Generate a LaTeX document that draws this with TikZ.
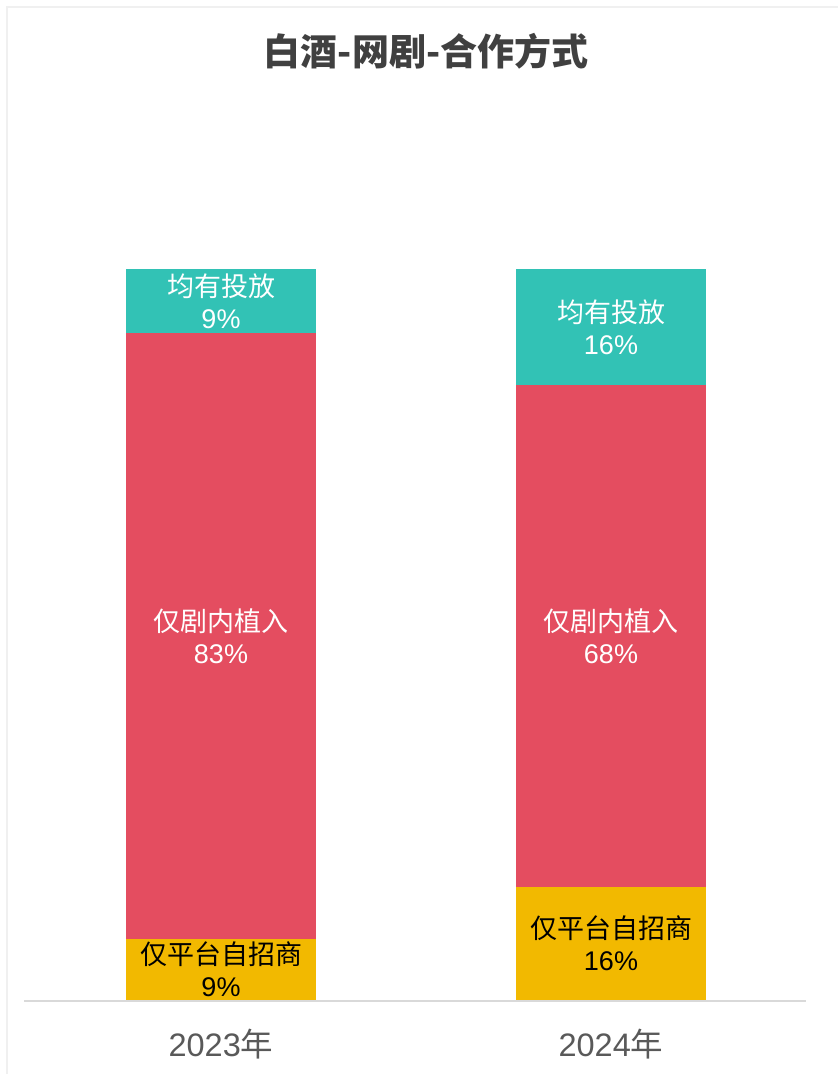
\documentclass[tikz,border=0pt]{standalone}
\usepackage{fontspec}
\setmainfont{Liberation Sans}
\newfontfamily\cjk{Noto Sans CJK SC}
\definecolor{cteal}{HTML}{32C2B5}
\definecolor{cred}{HTML}{E44D60}
\definecolor{cyellow}{HTML}{F2B900}
\definecolor{caxis}{HTML}{D9D9D9}
\definecolor{ctitle}{HTML}{404040}
\definecolor{clabel}{HTML}{595959}
\definecolor{cframe}{HTML}{F0F0F0}
\begin{document}
\begin{tikzpicture}[x=1pt,y=-1pt,
  seg/.style={rectangle, inner sep=0pt, minimum width=190pt, align=center,
    font=\fontsize{27}{32}\selectfont},
  wseg/.style={seg, text=white},
  bseg/.style={seg, text=black},
  axlabel/.style={inner sep=0pt, text=clabel, font=\fontsize{32.5}{36}\selectfont},
  titlestyle/.style={inner sep=0pt, text=ctitle, font=\fontsize{37}{42}\selectfont\bfseries}]
\useasboundingbox (0,0) rectangle (838,1074);
\fill[white] (0,0) rectangle (838,1074);
\draw[cframe, line width=2.5pt] (7,1074) -- (7,7) -- (838,7);
\node[titlestyle] (title) at (426,51) {\cjk 白酒-网剧-合作方式};
% bar 2023
\node[wseg, fill=cteal, minimum height=64pt] (a1) at (221,301) {\cjk 均有投放\\9\%};
\node[wseg, fill=cred, minimum height=606pt] (a2) at (221,636) {\cjk 仅剧内植入\\83\%};
\node[bseg, fill=cyellow, minimum height=61pt] (a3) at (221,969.5) {\cjk 仅平台自招商\\9\%};
% bar 2024
\node[wseg, fill=cteal, minimum height=116pt] (b1) at (611,327) {\cjk 均有投放\\16\%};
\node[wseg, fill=cred, minimum height=502pt] (b2) at (611,636) {\cjk 仅剧内植入\\68\%};
\node[bseg, fill=cyellow, minimum height=113pt] (b3) at (611,943.5) {\cjk 仅平台自招商\\16\%};
% axis
\coordinate (axl) at (24,1001);
\coordinate (axr) at (806,1001);
\draw[caxis, line width=2pt] (axl) -- (axr);
\node[axlabel] (x1) at (221,1044) {2023{\cjk 年}};
\node[axlabel] (x2) at (611,1044) {2024{\cjk 年}};
\end{tikzpicture}
\end{document}
